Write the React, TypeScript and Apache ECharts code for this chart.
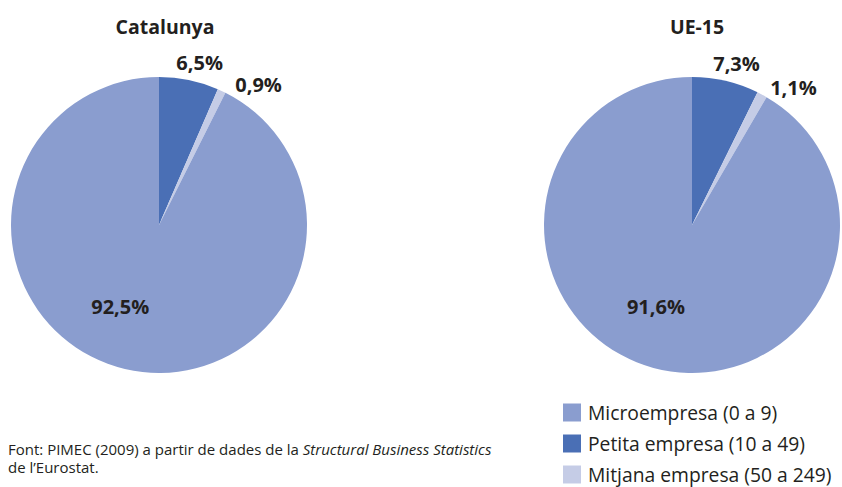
import React, { useEffect, useRef } from "react";
import * as echarts from "echarts";

const categories = ["Petita empresa (10 a 49)", "Mitjana empresa (50 a 249)", "Microempresa (0 a 9)"];
const legendOrder = ["Microempresa (0 a 9)", "Petita empresa (10 a 49)", "Mitjana empresa (50 a 249)"];
const catalunyaValues = [6.5, 0.9, 92.5];
const ue15Values = [7.3, 1.1, 91.6];
const titles = ["Catalunya", "UE-15"];
const colors = ["#4A6FB5", "#C5CCE6", "#8A9DCF"];
const sourceLine1 = "Font: PIMEC (2009) a partir de dades de la ";
const sourceItalic = "Structural Business Statistics";
const sourceLine2 = "de l\u2019Eurostat.";

const FONT = "'Open Sans', 'Noto Sans', sans-serif";
const TXT = "#231F20";

const fmt = (v: number) => v.toFixed(1).replace(".", ",") + "%";

export default function App() {
  const ref = useRef<HTMLDivElement>(null);
  useEffect(() => {
    document.body.style.margin = "0";
    const chart = echarts.init(ref.current!, null, { renderer: "svg" });
    const offsetsCat = [[25, -87], [67, -71], [-21, 7]];
    const offsetsUe = [[27, -87], [65, -70], [-16, 7]];
    const mkSeries = (vals: number[], cx: number, offs: number[][]) => ({
      type: "pie",
      center: [cx, 225],
      radius: [0, 148],
      startAngle: 90,
      clockwise: true,
      avoidLabelOverlap: false,
      silent: true,
      itemStyle: { borderColor: "transparent", borderWidth: 0 },
      label: {
        show: true,
        position: "inside",
        formatter: (p: any) => fmt(p.value),
        fontFamily: FONT,
        fontWeight: "bold",
        fontSize: 20,
        color: TXT,
      },
      labelLine: { show: false },
      labelLayout: (p: any) => ({ dx: offs[p.dataIndex][0], dy: offs[p.dataIndex][1] }),
      data: categories.map((c, i) => ({ name: c, value: vals[i], itemStyle: { color: colors[i] } })),
    });
    chart.setOption({
      animation: false,
      title: [
        { text: titles[0], left: 160, top: 11, textAlign: "center", textStyle: { fontFamily: FONT, fontWeight: "bold", fontSize: 19.5, color: TXT } },
        { text: titles[1], left: 692, top: 11, textAlign: "center", textStyle: { fontFamily: FONT, fontWeight: "bold", fontSize: 19.5, color: TXT } },
      ],
      legend: {
        orient: "vertical",
        left: 563,
        top: 403,
        padding: 0,
        itemWidth: 18,
        itemHeight: 18,
        itemGap: 12,
        icon: "rect",
        data: legendOrder,
        selectedMode: false,
        textStyle: { fontFamily: FONT, fontSize: 19.3, color: TXT, padding: [0, 0, 0, 2] },
      },
      graphic: [
        {
          type: "text",
          left: 8,
          top: 441,
          style: {
            text: "{n|" + sourceLine1 + "}{i|" + sourceItalic + "}\n{n|" + sourceLine2 + "}",
            rich: {
              n: { fontFamily: FONT, fontSize: 15, fill: TXT, lineHeight: 18 },
              i: { fontFamily: FONT, fontSize: 15, fontStyle: "italic", fill: TXT, lineHeight: 18 },
            },
          },
        },
      ],
      series: [mkSeries(catalunyaValues, 159, offsetsCat), mkSeries(ue15Values, 692, offsetsUe)],
    });
    return () => chart.dispose();
  }, []);
  return <div ref={ref} style={{ width: 842, height: 487 }} />;
}
